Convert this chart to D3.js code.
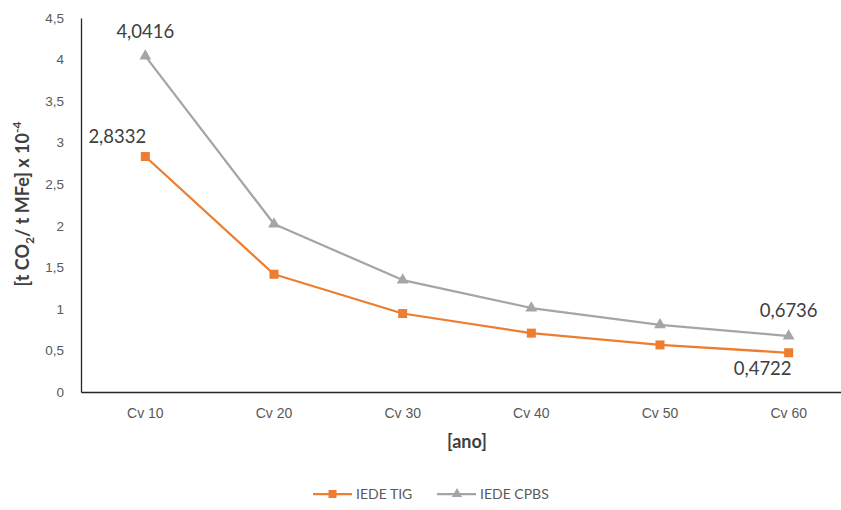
<!DOCTYPE html>
<html>
<head>
<meta charset="utf-8">
<script src="https://cdn.jsdelivr.net/npm/d3@7"></script>
<style>
  html, body { margin: 0; padding: 0; background: #fff; }
  svg { display: block; font-family: Lato, "Open Sans", "Liberation Sans", sans-serif; }
</style>
</head>
<body>
<svg id="chart" width="841" height="510"></svg>
<script>
// Categories (x) and series values
const categories = ["Cv 10", "Cv 20", "Cv 30", "Cv 40", "Cv 50", "Cv 60"];
const iedeTig  = [2.8332, 1.4166, 0.9444, 0.7083, 0.5666, 0.4722];
const iedeCpbs = [4.0416, 2.0208, 1.3472, 1.0104, 0.8083, 0.6736];
const yTicks = [0, 0.5, 1, 1.5, 2, 2.5, 3, 3.5, 4, 4.5];
const seriesNames = ["IEDE TIG", "IEDE CPBS"];

const svg = d3.select("#chart");
const fmt = v => String(v).replace(".", ",");

const x = d3.scaleBand().domain(categories).range([81, 853]);
const y = d3.scaleLinear().domain([0, 4.5]).range([392, 18]);
const cx = c => x(c) + x.bandwidth() / 2;

// y axis
const yAxis = svg.append("g").attr("transform", "translate(81,0)")
  .call(d3.axisLeft(y).tickValues(yTicks).tickSize(0).tickPadding(17).tickFormat(fmt));
yAxis.select(".domain").attr("stroke", "#262626").attr("stroke-width", 1.3);
yAxis.selectAll("text").attr("fill", "#595959").style("font-size", "13.5px");

// x axis
const xAxis = svg.append("g").attr("transform", "translate(0,392)")
  .call(d3.axisBottom(x).tickSize(0).tickPadding(16));
xAxis.select(".domain").attr("stroke", "#262626").attr("stroke-width", 1.3);
xAxis.selectAll("text").attr("fill", "#595959").style("font-size", "14px");

// axis titles
svg.append("text")
  .attr("transform", "translate(29,204) rotate(-90)")
  .attr("text-anchor", "middle")
  .attr("fill", "#404040").style("font-size", "18px").style("font-weight", "bold")
  .html('[t CO<tspan dy="5" font-size="12">2</tspan><tspan dy="-5">/ t MFe] x 10</tspan><tspan dy="-8" font-size="12">-4</tspan>');

svg.append("text")
  .attr("x", 467).attr("y", 448)
  .attr("text-anchor", "middle")
  .attr("fill", "#404040").style("font-size", "18px").style("font-weight", "bold")
  .text("[ano]");

const colors = ["#ED7D31", "#A5A5A5"];
const data = [iedeTig, iedeCpbs];
const line = d3.line().x((d, i) => cx(categories[i])).y(d => y(d));

// series lines (grey drawn first, orange on top)
[1, 0].forEach(s => {
  svg.append("path")
    .datum(data[s])
    .attr("d", line)
    .attr("fill", "none")
    .attr("stroke", colors[s])
    .attr("stroke-width", 2.25)
    .attr("stroke-linejoin", "round");
});

const triangle = d3.symbol().type(d3.symbolTriangle).size(60);

// markers
svg.append("g").selectAll("rect").data(iedeTig).join("rect")
  .attr("x", (d, i) => cx(categories[i]) - 4.5)
  .attr("y", d => y(d) - 4.5)
  .attr("width", 9).attr("height", 9)
  .attr("fill", colors[0]);

svg.append("g").selectAll("path").data(iedeCpbs).join("path")
  .attr("d", triangle)
  .attr("transform", (d, i) => `translate(${cx(categories[i])},${y(d)})`)
  .attr("fill", colors[1]);

// data labels
const labels = [
  { s: 1, i: 0, dx: 0,   dy: -18 },
  { s: 0, i: 0, dx: -28, dy: -14 },
  { s: 1, i: 5, dx: 0,   dy: -19 },
  { s: 0, i: 5, dx: -26, dy: 22 }
];
svg.append("g").selectAll("text").data(labels).join("text")
  .attr("x", d => cx(categories[d.i]) + d.dx)
  .attr("y", d => y(data[d.s][d.i]) + d.dy)
  .attr("text-anchor", "middle")
  .attr("fill", "#404040")
  .style("font-size", "18.5px")
  .text(d => fmt(data[d.s][d.i]));

// legend
const legend = svg.append("g").attr("transform", "translate(0,494)");
const legendItems = [
  { x0: 313, name: seriesNames[0], c: colors[0], mark: "square" },
  { x0: 437, name: seriesNames[1], c: colors[1], mark: "triangle" }
];
legendItems.forEach(it => {
  legend.append("line").attr("x1", it.x0).attr("x2", it.x0 + 39)
    .attr("y1", 0).attr("y2", 0).attr("stroke", it.c).attr("stroke-width", 2.25);
  if (it.mark === "square") {
    legend.append("rect").attr("x", it.x0 + 19.5 - 4).attr("y", -4)
      .attr("width", 8).attr("height", 8).attr("fill", it.c);
  } else {
    legend.append("path").attr("d", d3.symbol().type(d3.symbolTriangle).size(45)())
      .attr("transform", `translate(${it.x0 + 20},0)`).attr("fill", it.c);
  }
  legend.append("text").attr("x", it.x0 + 43).attr("y", 5)
    .attr("fill", "#595959").style("font-size", "14px").text(it.name);
});
</script>
</body>
</html>
